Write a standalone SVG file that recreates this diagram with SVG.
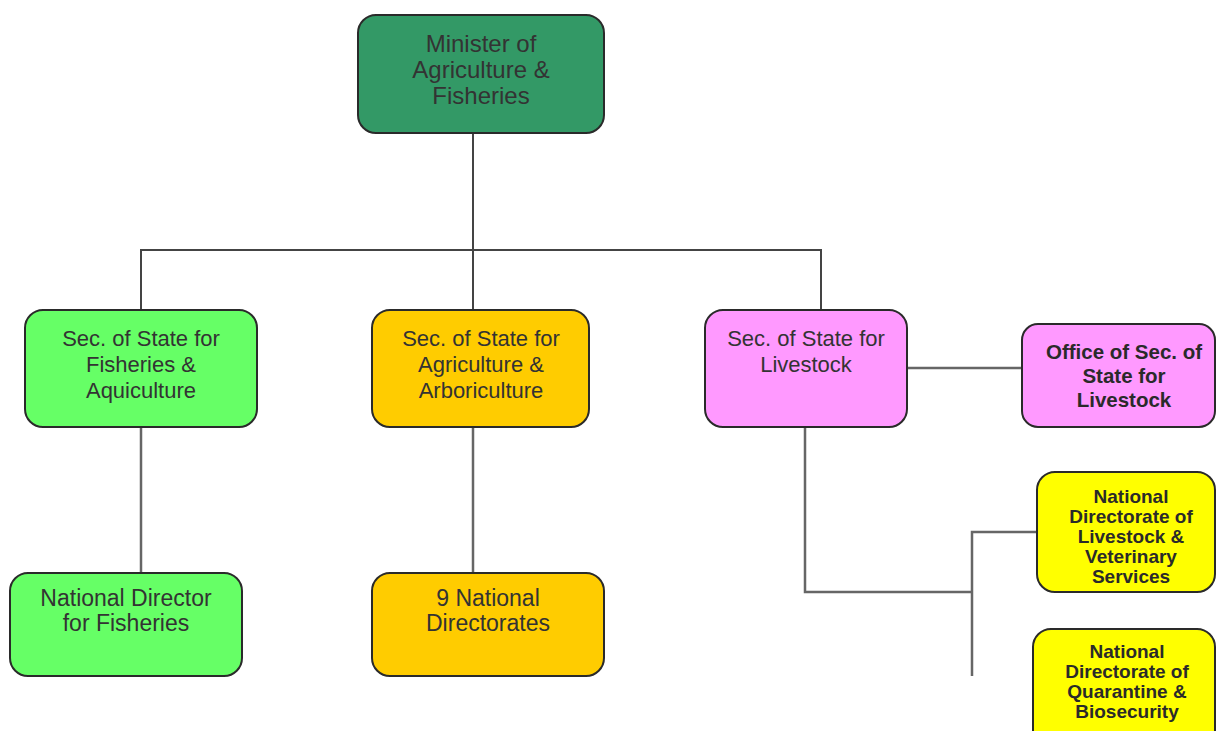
<svg xmlns="http://www.w3.org/2000/svg" width="1216" height="731" viewBox="0 0 1216 731">
<style>
.box{stroke:#2a2a2a;stroke-width:2}
.t{font-family:"Liberation Sans",Arial,sans-serif;fill:#333;text-anchor:middle}
.n{font-size:22px}
.l{font-size:24px}
.m{font-size:23px}
.b{font-weight:bold;fill:#2a2a2a}
.conn{stroke:#444;stroke-width:2;fill:none}
.conn2{stroke:#666;stroke-width:2.5;fill:none}
</style>
<rect width="1216" height="731" fill="#ffffff"/>
<g id="connectors">
<path class="conn" d="M473 133 V310"/>
<path class="conn" d="M141 310 V250 H821 V310"/>
<path class="conn2" d="M141 427 V573"/>
<path class="conn2" d="M473 427 V573"/>
<path class="conn2" d="M907 368 H1022"/>
<path class="conn2" d="M805 427 V592 H972"/>
<path class="conn2" d="M972 676 V532 H1037"/>
</g>
<g id="minister">
<rect class="box" x="358" y="15" width="246" height="118" rx="18" fill="#339966"/>
<text class="t l"><tspan x="481" y="52">Minister of</tspan><tspan x="481" y="78">Agriculture &amp;</tspan><tspan x="481" y="104">Fisheries</tspan></text>
</g>
<g id="sec-fisheries">
<rect class="box" x="25" y="310" width="232" height="117" rx="18" fill="#66ff66"/>
<text class="t n"><tspan x="141" y="346">Sec. of State for</tspan><tspan x="141" y="372">Fisheries &amp;</tspan><tspan x="141" y="398">Aquiculture</tspan></text>
</g>
<g id="sec-agriculture">
<rect class="box" x="372" y="310" width="217" height="117" rx="18" fill="#ffcc00"/>
<text class="t n"><tspan x="481" y="346">Sec. of State for</tspan><tspan x="481" y="372">Agriculture &amp;</tspan><tspan x="481" y="398">Arboriculture</tspan></text>
</g>
<g id="sec-livestock">
<rect class="box" x="705" y="310" width="202" height="117" rx="18" fill="#ff99ff"/>
<text class="t n"><tspan x="806" y="346">Sec. of State for</tspan><tspan x="806" y="372">Livestock</tspan></text>
</g>
<g id="office-livestock">
<rect class="box" x="1022" y="324" width="193" height="103" rx="16" fill="#ff99ff"/>
<text class="t b" font-size="20.5"><tspan x="1124" y="359">Office of Sec. of</tspan><tspan x="1124" y="383">State for</tspan><tspan x="1124" y="407">Livestock</tspan></text>
</g>
<g id="nd-fisheries">
<rect class="box" x="10" y="573" width="232" height="103" rx="18" fill="#66ff66"/>
<text class="t m"><tspan x="126" y="606">National Director</tspan><tspan x="126" y="631">for Fisheries</tspan></text>
</g>
<g id="nine-directorates">
<rect class="box" x="372" y="573" width="232" height="103" rx="18" fill="#ffcc00"/>
<text class="t m"><tspan x="488" y="606">9 National</tspan><tspan x="488" y="631">Directorates</tspan></text>
</g>
<g id="nd-livestock">
<rect class="box" x="1037" y="472" width="178" height="120" rx="18" fill="#ffff00"/>
<text class="t b" font-size="19"><tspan x="1131" y="503">National</tspan><tspan x="1131" y="523">Directorate of</tspan><tspan x="1131" y="543">Livestock &amp;</tspan><tspan x="1131" y="563">Veterinary</tspan><tspan x="1131" y="583">Services</tspan></text>
</g>
<g id="nd-quarantine">
<rect class="box" x="1033" y="629" width="182" height="120" rx="18" fill="#ffff00"/>
<text class="t b" font-size="19"><tspan x="1127" y="658">National</tspan><tspan x="1127" y="678">Directorate of</tspan><tspan x="1127" y="698">Quarantine &amp;</tspan><tspan x="1127" y="718">Biosecurity</tspan></text>
</g>
</svg>
